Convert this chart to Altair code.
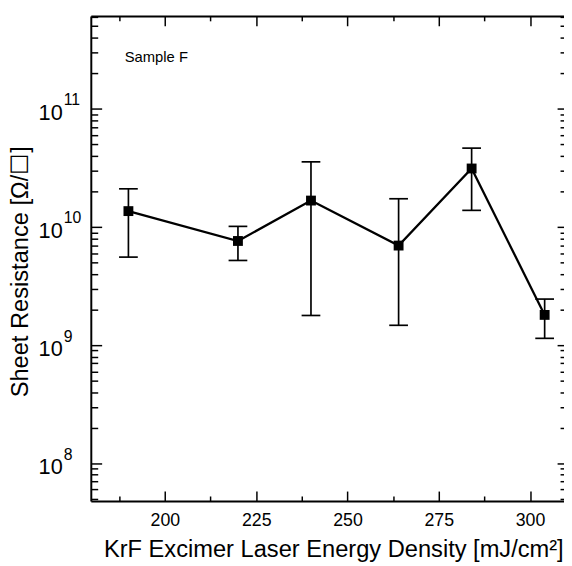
import altair as alt
import pandas as pd

# ---- data ----
energy = [190, 220, 240, 264, 284, 304]
resistance = [1.36e10, 7.6e9, 1.67e10, 6.95e9, 3.12e10, 1.8e9]
err_high = [2.1e10, 1.01e10, 3.55e10, 1.73e10, 4.64e10, 2.45e9]
err_low = [5.55e9, 5.2e9, 1.78e9, 1.47e9, 1.38e10, 1.14e9]

x_major = [200, 225, 250, 275, 300]
x_minor = [187.5, 212.5, 237.5, 262.5, 287.5]
y_major = [1e8, 1e9, 1e10, 1e11]
y_minor = [m * 10.0 ** k for k in range(7, 12) for m in range(2, 10)
           if 4.8e7 <= m * 10.0 ** k <= 6.1e11]

note_text = ["Sample F"]
note_x = [189]
note_y = [2.5e11]

x_domain = [179.7, 309.3]
y_domain = [4.8e7, 6.1e11]

W, H = 480, 492
FONT = "Liberation Sans"

df = pd.DataFrame({"energy": energy, "res": resistance,
                   "hi": err_high, "lo": err_low})
note = pd.DataFrame({"x": note_x, "y": note_y, "t": note_text})

xs = alt.Scale(domain=x_domain, nice=False, zero=False)
ys = alt.Scale(type="log", domain=y_domain, nice=False)

# ---- axes ----
ax_x_labels = alt.Axis(orient="bottom", values=x_major, ticks=False, tickSize=0,
                       labelFontSize=18, labelPadding=11, labelFlush=False,
                       domain=True, grid=False, format="d",
                       title="KrF Excimer Laser Energy Density [mJ/cm²]",
                       titleFontSize=24, titleX=246, titleY=56,
                       titleBaseline="alphabetic", titleAlign="center")
ax_x_bmajor = alt.Axis(orient="top", offset=-H, values=x_major, labels=False,
                       domain=False, tickSize=10, grid=False, title=None)
ax_x_bminor = alt.Axis(orient="top", offset=-H, values=x_minor, labels=False,
                       domain=False, tickSize=5, grid=False, title=None)
ax_x_tmajor = alt.Axis(orient="bottom", offset=-H, values=x_major, labels=False,
                       domain=True, tickSize=10, grid=False, title=None)
ax_x_tminor = alt.Axis(orient="bottom", offset=-H, values=x_minor, labels=False,
                       domain=False, tickSize=5, grid=False, title=None)

ax_y_labels = alt.Axis(orient="left", values=y_major, ticks=False, tickSize=0,
                       labelExpr="'10'", labelFontSize=22, labelPadding=29,
                       labelOffset=3.5, labelFlush=False, domain=True, grid=False,
                       title="Sheet Resistance [Ω/☐]", titleFontSize=24,
                       titleAngle=270, titleX=-64, titleY=259,
                       titleBaseline="alphabetic", titleAlign="center")
ax_y_exp = alt.Axis(orient="left", values=y_major, ticks=False, tickSize=0,
                    labelExpr="format(log(datum.value)/LN10, '.0f')",
                    labelAlign="left", labelPadding=28, labelFontSize=16,
                    labelOffset=-9, labelFlush=False, domain=False, grid=False,
                    title=None)
ax_y_lmajor = alt.Axis(orient="right", offset=-W, values=y_major, labels=False,
                       domain=False, tickSize=11, grid=False, title=None)
ax_y_lminor = alt.Axis(orient="right", offset=-W, values=y_minor, labels=False,
                       domain=False, tickSize=7, grid=False, title=None)
ax_y_rmajor = alt.Axis(orient="left", offset=-W, values=y_major, labels=False,
                       domain=False, tickSize=7, grid=False, title=None)
ax_y_rminor = alt.Axis(orient="left", offset=-W, values=y_minor, labels=False,
                       domain=False, tickSize=4, grid=False, title=None)

base = alt.Chart(df)

bars = base.mark_rule(color="black", strokeWidth=1.7).encode(
    x=alt.X("energy:Q", scale=xs, axis=ax_x_labels),
    y=alt.Y("lo:Q", scale=ys, axis=ax_y_labels),
    y2="hi:Q",
)

caps = base.transform_fold(["lo", "hi"], as_=["k", "v"]).mark_tick(
    orient="horizontal", size=19, thickness=1.7, color="black", opacity=1
).encode(
    x=alt.X("energy:Q", scale=xs, axis=ax_x_bmajor),
    y=alt.Y("v:Q", scale=ys, axis=ax_y_exp),
)

line = base.mark_line(color="black", strokeWidth=2.3).encode(
    x=alt.X("energy:Q", scale=xs, axis=ax_x_bminor),
    y=alt.Y("res:Q", scale=ys, axis=ax_y_lmajor),
)

pts = base.mark_point(shape="square", filled=True, size=100, color="black",
                      opacity=1).encode(
    x=alt.X("energy:Q", scale=xs, axis=ax_x_tmajor),
    y=alt.Y("res:Q", scale=ys, axis=ax_y_lminor),
)

label = alt.Chart(note).mark_text(align="left", baseline="alphabetic",
                                  fontSize=15, font=FONT, color="black").encode(
    x=alt.X("x:Q", scale=xs, axis=ax_x_tminor),
    y=alt.Y("y:Q", scale=ys, axis=ax_y_rmajor),
    text="t:N",
)

ghost = base.mark_point(opacity=0).encode(
    x=alt.X("energy:Q", scale=xs, axis=None),
    y=alt.Y("res:Q", scale=ys, axis=ax_y_rminor),
)

chart = alt.layer(bars, caps, line, pts, label, ghost).resolve_axis(
    x="independent", y="independent"
).properties(
    width=W, height=H,
    autosize=alt.AutoSizeParams(type="none"),
    padding={"left": 84, "top": 4, "right": 0, "bottom": 62},
    background="white",
).configure_view(stroke=None).configure_axis(
    labelFont=FONT, titleFont=FONT, labelColor="black", titleColor="black",
    domainColor="black", tickColor="black", domainWidth=2, tickWidth=1.5,
    titleFontWeight="normal",
)

chart.save("out.html", embed_options={"renderer": "svg", "actions": False})
